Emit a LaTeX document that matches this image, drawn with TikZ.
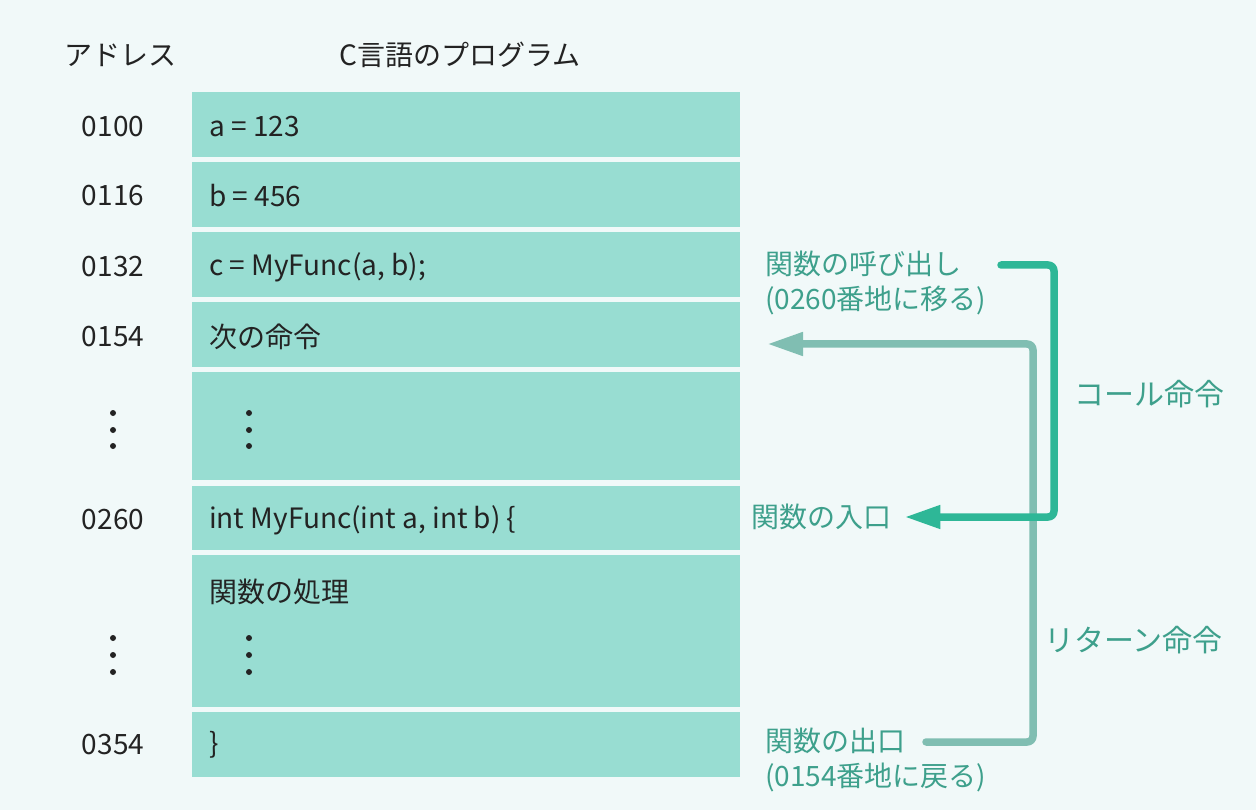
\documentclass[tikz,border=0pt]{standalone}
\usepackage{fontspec}
\setmainfont{Noto Sans CJK JP}
\usetikzlibrary{arrows.meta}
\definecolor{bgc}{RGB}{241,249,249}
\definecolor{cellc}{RGB}{152,221,210}
\definecolor{ink}{RGB}{35,35,35}
\definecolor{tealtxt}{RGB}{62,160,140}
\definecolor{callc}{RGB}{46,183,151}
\definecolor{retc}{RGB}{128,190,178}
\tikzset{
  cell/.style={fill=cellc, draw=none, minimum width=548pt, inner sep=0pt, outer sep=0pt},
  lbl/.style={font=\fontsize{28}{34}\selectfont, text=ink, inner sep=0pt},
  tlbl/.style={font=\fontsize{28}{35}\selectfont, text=tealtxt, inner sep=0pt, align=left, anchor=west},
  vdot/.style={circle, fill=ink, minimum size=6pt, inner sep=0pt},
  callline/.style={draw=callc, line width=7.5pt, rounded corners=6pt, line cap=round,
    -{Triangle[length=36pt,width=22pt]}},
  retline/.style={draw=retc, line width=7.5pt, rounded corners=6pt, line cap=round,
    -{Triangle[length=36pt,width=22pt]}},
}
\begin{document}
\begin{tikzpicture}[x=1pt,y=-1pt]
\fill[bgc] (0,0) rectangle (1256,810);
\useasboundingbox (0,0) rectangle (1256,810);

% headers
\node[lbl] (hAddr) at (120,55) {アドレス};
\node[lbl] (hProg) at (460,55) {C言語のプログラム};

% cells
\node[cell, minimum height=65pt] (r1) at (466,124.5) {};
\node[cell, minimum height=65pt] (r2) at (466,194.5) {};
\node[cell, minimum height=65pt] (r3) at (466,264.5) {};
\node[cell, minimum height=65pt] (r4) at (466,334.5) {};
\node[cell, minimum height=108pt] (r5) at (466,426) {};
\node[cell, minimum height=64pt] (r6) at (466,518) {};
\node[cell, minimum height=152pt] (r7) at (466,631) {};
\node[cell, minimum height=65pt] (r8) at (466,744.5) {};

% addresses
\node[lbl] (a1) at (113,127) {0100};
\node[lbl] (a2) at (113,196) {0116};
\node[lbl] (a3) at (113,267) {0132};
\node[lbl] (a4) at (113,337) {0154};
\node[lbl] (a6) at (113,520) {0260};
\node[lbl] (a8) at (113,745) {0354};
\foreach \i/\y in {1/413,2/430,3/446}{\node[vdot] (ld5\i) at (113,\y) {};}
\foreach \i/\y in {1/638,2/655,3/672}{\node[vdot] (ld7\i) at (113,\y) {};}

% cell contents
\node[lbl, anchor=west] (t1) at (209,127) {a = 123};
\node[lbl, anchor=west] (t2) at (209,196) {b = 456};
\node[lbl, anchor=west] (t3) at (209,267) {c = MyFunc(a, b);};
\node[lbl, anchor=west] (t4) at (209,337) {次の命令};
\node[lbl, anchor=west] (t6) at (209,520) {int MyFunc(int a, int b) \{};
\node[lbl, anchor=west] (t7) at (209,592) {関数の処理};
\node[lbl, anchor=west] (t8) at (209,745) {\}};
\foreach \i/\y in {1/413,2/430,3/446}{\node[vdot] (cd5\i) at (249,\y) {};}
\foreach \i/\y in {1/638,2/655,3/672}{\node[vdot] (cd7\i) at (249,\y) {};}

% right labels
\node[tlbl] (callLbl) at (765,282.5) {関数の呼び出し\\(0260番地に移る)};
\node[tlbl] (entry) at (751,517) {関数の入口};
\node[tlbl] (exitLbl) at (765,760) {関数の出口\\(0154番地に戻る)};
\node[tlbl, font=\fontsize{30}{35}\selectfont] (callName) at (1074,394) {コール命令};
\node[tlbl, font=\fontsize{30}{35}\selectfont] (retName) at (1044,640) {リターン命令};

% connectors
\coordinate (cs) at (1001,265);
\coordinate (ck) at (1054,265);
\coordinate (rs) at (926,742);
\coordinate (rk) at (1033,742);
\coordinate (rt) at (767,344);
\draw[retline] (rs) -- (rk) |- (rt);
\draw[callline] (cs) -- (ck) |- ([xshift=13pt]entry.east);
\end{tikzpicture}
\end{document}
